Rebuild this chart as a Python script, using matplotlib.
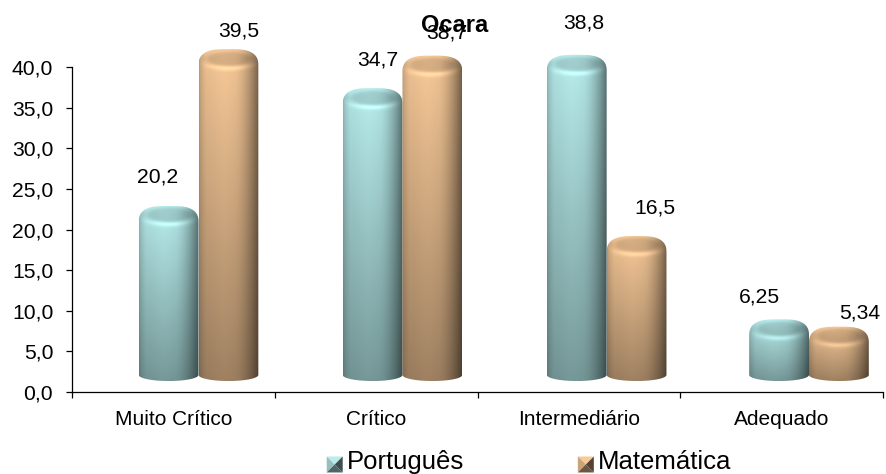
import numpy as np
from matplotlib import pyplot as plt
from matplotlib.patches import PathPatch, Polygon
from matplotlib.path import Path
from matplotlib.legend_handler import HandlerBase
from matplotlib.lines import Line2D

plt.rcParams['font.family'] = ['Liberation Sans', 'DejaVu Sans']

categories = ['Muito Crítico', 'Crítico', 'Intermediário', 'Adequado']
portugues = [20.2, 34.7, 38.8, 6.25]
matematica = [39.5, 38.7, 16.5, 5.34]
portugues_labels = ['20,2', '34,7', '38,8', '6,25']
matematica_labels = ['39,5', '38,7', '16,5', '5,34']
yticks = [0, 5, 10, 15, 20, 25, 30, 35, 40]

BAR_W = 0.295
# the bars sit a bit off the category centres, and more so to the right
GROUP_POS = [0.624, 1.63, 2.637, 3.635]
BASE = 2.1
BASE_RY = 0.75
TOP_LIFT = 2.7
CAP_LIFT = 1.5
CAP_RY = 1.15

teal = np.array([176, 226, 226]) / 255
tan = np.array([236, 192, 145]) / 255


def draw_cylinder(ax, x, value, color):
    left, right = x - BAR_W / 2, x + BAR_W / 2
    top = value + TOP_LIFT
    capc = value + CAP_LIFT
    bottom = BASE - BASE_RY
    xs = np.linspace(-1, 1, 140)
    ys = np.linspace(top, bottom, 420)
    gx, yy = np.meshgrid(xs, ys)
    u = (gx + 1) / 2
    # horizontal shading of the body, dark on the right edge
    hs = 0.8 + 0.2 * np.clip(u / 0.12, 0, 1) ** 0.6
    hs = hs + 0.05 * np.exp(-((u - 0.42) / 0.2) ** 2)
    hs = hs - 0.5 * np.clip((u - 0.6) / 0.4, 0, 1) ** 1.7
    vs = 1.0 - 0.36 * (top - yy) / (top - bottom)
    gy = (yy - capc) / CAP_RY
    r = np.sqrt(gx ** 2 + gy ** 2)
    # flat top is a bit darker, the front rim catches the light
    inner = np.clip((1.0 - r) / 0.35, 0, 1)
    rim = np.exp(-((r - 0.95) / 0.28) ** 2) * np.clip(1 - gy, 0, 1) * np.clip(1 - gx ** 2, 0, 1)
    shade = hs * vs - 0.13 * inner * (gy > -1.2) + 0.16 * rim
    img = np.clip(shade[:, :, None] * color[None, None, :], 0, 1)
    im = ax.imshow(img, extent=(left, right, bottom, top), aspect='auto', zorder=3, interpolation='bilinear')
    t = np.linspace(np.pi, 2 * np.pi, 40)
    verts = list(zip(x + BAR_W / 2 * np.cos(t), BASE + BASE_RY * np.sin(t)))
    # rounded shoulders on the top outline
    t = np.linspace(0, np.pi, 60)
    verts += list(zip(x + BAR_W / 2 * np.sign(np.cos(t)) * np.abs(np.cos(t)) ** 0.62,
                      value + 0.7 + (top - value - 0.7) * np.sin(t) ** 0.8))
    clip = PathPatch(Path(verts + [verts[0]]), transform=ax.transData, fc='none', ec='none', clip_on=False)
    ax.add_patch(clip)
    im.set_clip_path(clip)
    # images fall back to the axes box if this is None, and the tall bars go above it
    im.set_clip_box(ax.figure.bbox)


class PyramidHandler(HandlerBase):
    def __init__(self, color):
        super().__init__()
        self.color = color

    def create_artists(self, legend, orig_handle, xdescent, ydescent, width, height, fontsize, trans):
        s = 11.5
        x0 = width - s - xdescent
        y0 = -ydescent - 2.5
        c = (x0 + s / 2, y0 + s / 2)
        a, b, d, e = (x0, y0), (x0 + s, y0), (x0 + s, y0 + s), (x0, y0 + s)
        shades = [(e, d, 1.05), (a, e, 0.85), (b, d, 0.35), (a, b, 0.45)]
        out = []
        for p, q, k in shades:
            out.append(Polygon([p, q, c], fc=np.clip(self.color * k, 0, 1), ec='none', transform=trans))
        return out


fig = plt.figure(figsize=(8.86, 4.74), dpi=100)
ax = fig.add_axes([72 / 886, (474 - 392) / 474, (883 - 72) / 886, (392 - 67) / 474])

for i in range(len(categories)):
    draw_cylinder(ax, GROUP_POS[i] - BAR_W / 2, portugues[i], teal)
    draw_cylinder(ax, GROUP_POS[i] + BAR_W / 2, matematica[i], tan)

ax.set_xlim(0, 4)
ax.set_ylim(0, 40)
ax.set_xticks(range(5))
ax.set_xticklabels([])
ax.set_xticks(np.arange(4) + 0.5, categories, minor=True)
ax.set_yticks(yticks)
ax.set_yticklabels([f'{v:.1f}'.replace('.', ',') for v in yticks], fontsize=15.2)
ax.tick_params(axis='x', which='major', length=4, width=0.9, direction='out')
ax.tick_params(axis='x', which='minor', length=0, labelsize=15, pad=13)
ax.tick_params(axis='y', length=4, width=0.9, direction='out', pad=9.5)
ax.spines['top'].set_visible(False)
ax.spines['right'].set_visible(False)
ax.spines['left'].set_linewidth(0.9)
ax.spines['bottom'].set_linewidth(0.9)

# label offsets in px, they don't follow a single rule in the original
port_off = [(-11, 51), (5, 50), (7, 54), (-20, 44)]
mat_off = [(10, 40), (14, 45), (18, 50), (21, 36)]
for i in range(len(categories)):
    ax.annotate(portugues_labels[i], (GROUP_POS[i] - BAR_W / 2, portugues[i]), xytext=port_off[i],
                textcoords='offset pixels', ha='center', va='center', fontsize=15.2, annotation_clip=False, zorder=6)
    ax.annotate(matematica_labels[i], (GROUP_POS[i] + BAR_W / 2, matematica[i]), xytext=mat_off[i],
                textcoords='offset pixels', ha='center', va='center', fontsize=15.2, annotation_clip=False, zorder=6)

fig.text(454.5 / 886, 1 - 25 / 474, 'Ocara', fontsize=17, fontweight='bold', ha='center', va='center', zorder=7)

h1 = Line2D([], [], label='Português')
h2 = Line2D([], [], label='Matemática')
fig.legend(handles=[h1, h2], handler_map={h1: PyramidHandler(teal), h2: PyramidHandler(tan)},
           loc='lower left', bbox_to_anchor=(317 / 886, 0.0), ncol=2, frameon=False, fontsize=18.5,
           handlelength=1.0, handletextpad=0.16, columnspacing=4.05, borderpad=0, borderaxespad=0)

fig.savefig('out.png', dpi=100)
